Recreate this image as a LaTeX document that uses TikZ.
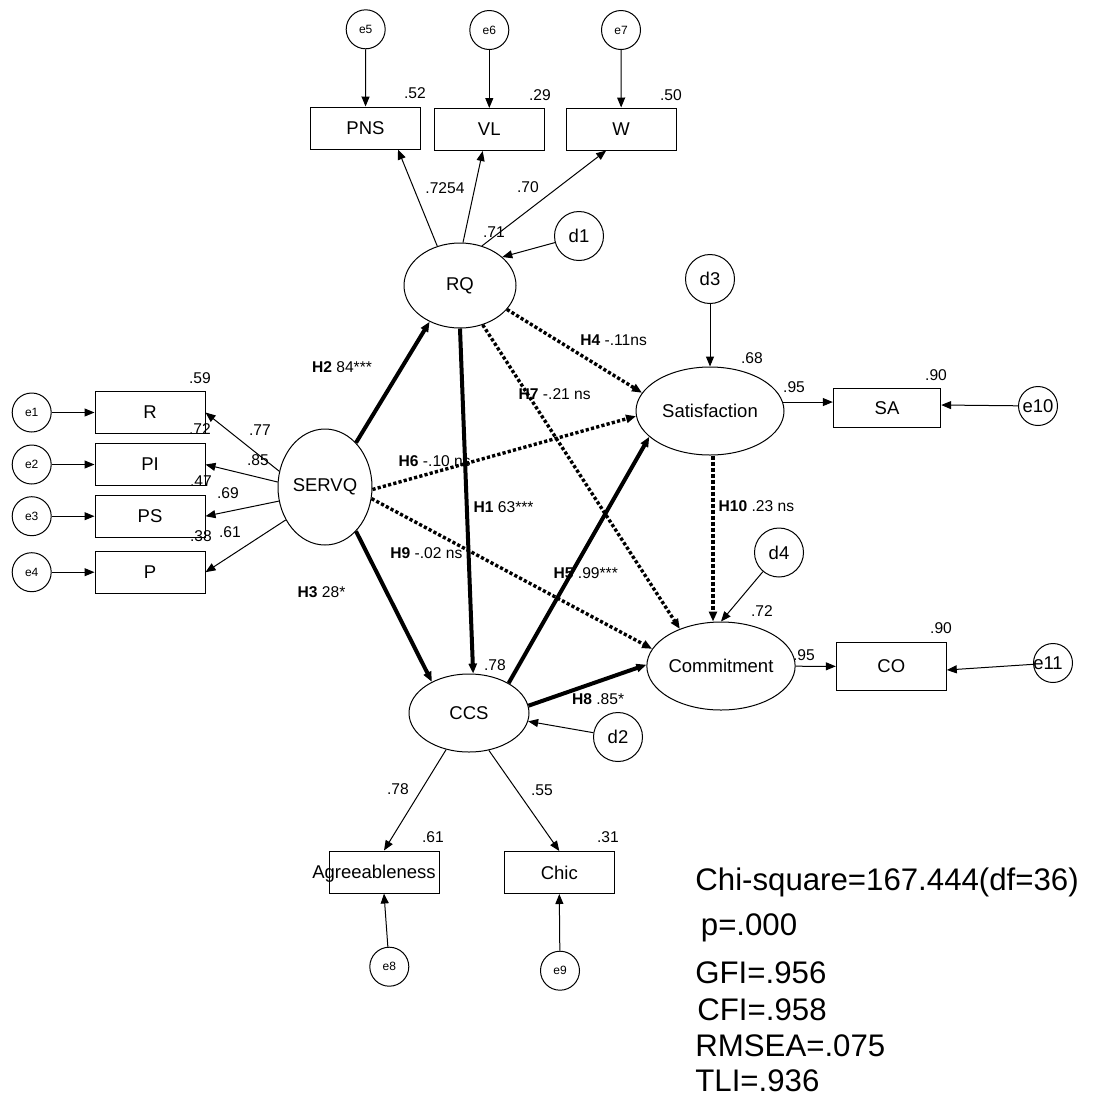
\documentclass[tikz,border=0pt]{standalone}
\usepackage{fontspec}
\setmainfont{Liberation Sans}
\usetikzlibrary{arrows.meta,shapes.geometric,calc}
\newcommand{\fsnode}{\fontsize{9.25}{11}\selectfont}
\newcommand{\fsnum}{\fontsize{7.8}{9}\selectfont}
\newcommand{\fserr}{\fontsize{6}{7}\selectfont}
\newcommand{\fsfit}{\fontsize{15.6}{18}\selectfont}
\begin{document}
\begin{tikzpicture}[x=0.5pt,y=-0.5pt,
  >={Triangle[length=5pt,width=4pt]},
  obs/.style={draw,rectangle,line width=0.5pt,inner sep=0pt,minimum width=55pt,minimum height=21pt,font=\fsnode},
  lat/.style={draw,ellipse,line width=0.5pt,inner sep=0pt,font=\fsnode},
  errc/.style={draw,circle,line width=0.5pt,inner sep=0pt,minimum size=19.5pt,font=\fserr},
  dist/.style={draw,circle,line width=0.5pt,inner sep=0pt,minimum size=24.5pt,font=\fsnode},
  num/.style={inner sep=0pt,font=\fsnum},
  hyp/.style={inner sep=0pt,anchor=west,font=\fsnum},
  fitstat/.style={inner sep=0pt,anchor=base west,font=\fsfit},
  load/.style={->,line width=0.5pt},
  sig/.style={->,line width=2pt},
  nsig/.style={->,line width=1.7pt,dash pattern=on 1.6pt off 1.1pt},
]
\fill[white] (0,0) rectangle (1095,1099);
\useasboundingbox (0,0) rectangle (1095,1099);

% ---- latent variables
\node[lat,minimum width=56pt,minimum height=42.5pt] (rq) at (460,285.5) {RQ};
\node[lat,minimum width=47pt,minimum height=58pt] (servq) at (325,487) {SERVQ};
\node[lat,minimum width=60pt,minimum height=39pt] (ccs) at (469,713) {CCS};
\node[lat,minimum width=74pt,minimum height=44pt] (sat) at (710,411) {Satisfaction};
\node[lat,minimum width=73pt,minimum height=44pt] (com) at (721,666) {Commitment};

% ---- indicators of RQ
\node[obs] (pns) at (365.5,128) {PNS};
\node[obs] (vl) at (489.3,129.5) {VL};
\node[obs] (w) at (621.2,129) {W};
\node[errc] (e5) at (365.7,29.3) {e5};
\node[errc] (e6) at (489.3,30) {e6};
\node[errc] (e7) at (621,30) {e7};

% ---- indicators of SERVQ
\node[obs] (nr) at (150,412.5) {R};
\node[obs] (npi) at (150,464.5) {PI};
\node[obs] (nps) at (150,516.2) {PS};
\node[obs] (np) at (150,572.2) {P};
\node[errc] (e1) at (31.7,412.5) {e1};
\node[errc] (e2) at (31.7,464.5) {e2};
\node[errc] (e3) at (31.7,516.2) {e3};
\node[errc] (e4) at (31.7,572.2) {e4};

% ---- indicators of CCS
\node[obs,label={[font=\fsnode,xshift=-5pt,yshift=-1pt]center:Agreeableness}] (agree) at (384,872) {};
\node[obs] (chic) at (559.3,872.5) {Chic};
\node[errc] (e8) at (389.3,966.7) {e8};
\node[errc] (e9) at (560,970.7) {e9};

% ---- single indicators
\node[obs,minimum width=53.7pt,minimum height=19.7pt] (sa) at (887,408) {SA};
\node[obs,minimum height=24pt] (co) at (891.3,666.5) {CO};
\node[errc,font=\fsnode] (e10) at (1038,406) {e10};
\node[errc,label={[font=\fsnode,xshift=-2.5pt]center:e11}] (e11) at (1053,663) {};

% ---- disturbances
\node[dist] (d1) at (579,236) {d1};
\node[dist] (d2) at (618,737) {d2};
\node[dist] (d3) at (710,279) {d3};
\node[dist] (d4) at (779,552.5) {d4};

% ---- measurement paths
\draw[load] (e5) -- (pns);
\draw[load] (e6) -- (vl);
\draw[load] (e7) -- (w);
\draw[load] (rq.120) -- ($(pns.south)+(32.5,0)$);
\draw[load] (rq.86) -- ($(vl.south)+(-6.6,0)$);
\draw[load] (rq.61) -- ($(w.south)+(-15,0)$);
\draw[load] (d1) -- (rq.34);

\draw[load] (e1) -- (nr);
\draw[load] (e2) -- (npi);
\draw[load] (e3) -- (nps);
\draw[load] (e4) -- (np);
\draw[load] (servq.161) -- (nr.east);
\draw[load] (servq.174) -- (npi.east);
\draw[load] (servq.197) -- (nps.east);
\draw[load] (servq.220) -- (np.east);

\draw[load] (ccs.238) -- (agree.north);
\draw[load] (ccs.298) -- (chic.north);
\draw[load] (e8) -- (agree.south);
\draw[load] (e9) -- (chic.south);

\draw[load] (sat.7) -- (sat.7 -| sa.west);
\draw[load] (e10) -- ([yshift=1.5pt]sa.east);
\draw[load] (com) -- (co);
\draw[load] (e11) -- ([yshift=-1.75pt]co.east);

\draw[load] (d2) -- (ccs.352);
\draw[load] (d3) -- (sat);
\draw[load] (d4) -- (com.north);

% ---- structural paths
\draw[sig] (servq.55) -- (rq.230);
\draw[sig] (rq.south) -- (ccs.84);
\draw[sig] (servq.305) -- (ccs.140);
\draw[nsig] (rq.333) -- (sat.165);
\draw[nsig] (rq.300) -- (com.138);
\draw[nsig] (servq.357) -- (sat.184);
\draw[nsig] (servq.346) -- (com.166);
\draw[sig] (ccs.37) -- (sat.203);
\draw[sig] (ccs.7) -- (com.179);
\draw[nsig,line width=2pt,dash pattern=on 2pt off 1pt] ([xshift=1.5pt]sat.south) -- ([xshift=-4pt]com.north);

% ---- squared multiple correlations and loadings
\node[num] at (415,93) {.52};
\node[num] at (540,95) {.29};
\node[num] at (671,95) {.50};
\node[num] at (445,188) {.7254};
\node[num] at (528,187) {.70};
\node[num] at (494,232) {.71};

\node[num] at (200,378) {.59};
\node[num] at (200,429) {.72};
\node[num] at (201,481) {.47};
\node[num] at (201,536) {.38};
\node[num] at (260,430) {.77};
\node[num] at (258,460) {.85};
\node[num] at (228,493) {.69};
\node[num] at (230,532) {.61};

\node[num] at (752,358) {.68};
\node[num] at (794,387) {.95};
\node[num] at (936,375) {.90};
\node[num] at (762,611) {.72};
\node[num] at (804,655) {.95};
\node[num] at (941,628) {.90};

\node[num] at (495,665) {.78};
\node[num] at (398,789) {.78};
\node[num] at (542,790) {.55};
\node[num] at (433,837) {.61};
\node[num] at (608,837) {.31};

% ---- hypothesis labels
\node[hyp] at (311.7,367.3) {\textbf{H2} 84***};
\node[hyp] at (297.3,591.7) {\textbf{H3} 28*};
\node[hyp] at (398.3,460.7) {\textbf{H6} -.10 ns};
\node[hyp] at (390,553.3) {\textbf{H9} -.02 ns};
\node[hyp] at (473.3,507.3) {\textbf{H1} 63***};
\node[hyp] at (580,340) {\textbf{H4} -.11ns};
\node[hyp] at (518.3,394) {\textbf{H7} -.21 ns};
\node[hyp] at (553.3,573.3) {\textbf{H5} .99***};
\node[hyp] at (718.3,506) {\textbf{H10} .23 ns};
\node[hyp] at (571.7,699.3) {\textbf{H8} .85*};

% ---- fit statistics
\node[fitstat] at (695,890) {Chi-square=167.444(df=36)};
\node[fitstat] at (700.5,935) {p=.000};
\node[fitstat] at (695,983) {GFI=.956};
\node[fitstat] at (697,1020) {CFI=.958};
\node[fitstat] at (695,1056) {RMSEA=.075};
\node[fitstat] at (695,1091) {TLI=.936};
\end{tikzpicture}
\end{document}
